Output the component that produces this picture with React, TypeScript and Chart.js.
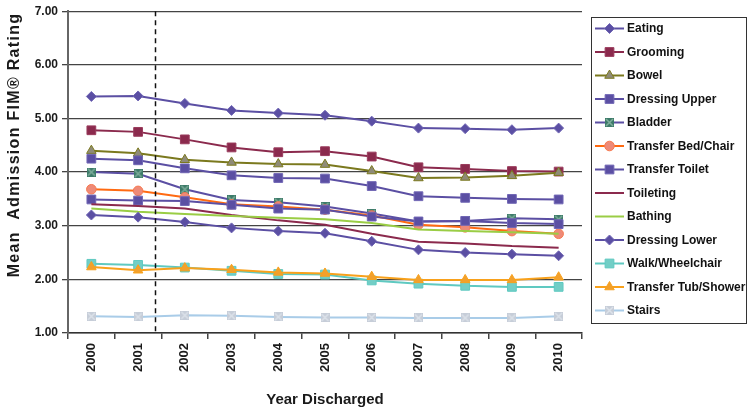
import React, { useEffect, useRef } from 'react';
import { Chart, registerables } from 'chart.js';

Chart.register(...registerables);

const years = ['2000', '2001', '2002', '2003', '2004', '2005', '2006', '2007', '2008', '2009', '2010'];

const eating = [5.41, 5.42, 5.28, 5.15, 5.10, 5.06, 4.95, 4.82, 4.81, 4.79, 4.82];
const grooming = [4.78, 4.75, 4.61, 4.46, 4.37, 4.39, 4.29, 4.09, 4.06, 4.02, 4.01];
const bowel = [4.40, 4.35, 4.23, 4.18, 4.15, 4.14, 4.02, 3.89, 3.90, 3.93, 3.99];
const dressingUpper = [4.25, 4.22, 4.07, 3.94, 3.89, 3.88, 3.74, 3.55, 3.52, 3.50, 3.49];
const bladder = [4.00, 3.97, 3.68, 3.48, 3.44, 3.36, 3.23, 3.08, 3.09, 3.14, 3.12];
const transferBedChair = [3.68, 3.65, 3.53, 3.40, 3.36, 3.30, 3.19, 3.02, 2.97, 2.90, 2.85];
const transferToilet = [3.49, 3.47, 3.46, 3.39, 3.32, 3.30, 3.17, 3.08, 3.09, 3.05, 3.03];
const toileting = [3.40, 3.37, 3.32, 3.20, 3.10, 3.02, 2.85, 2.70, 2.67, 2.62, 2.59];
const bathing = [3.32, 3.26, 3.22, 3.18, 3.15, 3.12, 3.05, 2.93, 2.90, 2.88, 2.85];
const dressingLower = [3.20, 3.16, 3.07, 2.96, 2.90, 2.86, 2.71, 2.55, 2.50, 2.47, 2.44];
const walkWheelchair = [2.29, 2.27, 2.22, 2.16, 2.10, 2.09, 1.98, 1.92, 1.88, 1.86, 1.86];
const transferTubShower = [2.23, 2.17, 2.21, 2.18, 2.13, 2.11, 2.05, 1.99, 1.99, 1.99, 2.04];
const stairs = [1.31, 1.30, 1.33, 1.32, 1.30, 1.29, 1.29, 1.28, 1.28, 1.28, 1.31];

const yMin = 1;
const yMax = 7;
const yStep = 1;
const dividerPosition = 1.37; // category index where the dashed divider sits

const yTitle = 'Mean  Admission FIM\u00AE Rating';
const xTitle = 'Year Discharged';

const FONT = '"Liberation Sans", Arial, Helvetica, sans-serif';
const PURPLE = '#5B4FA3';

function makeXSquare(fill: string, cross: string, side: number) {
  const c = document.createElement('canvas');
  c.width = side;
  c.height = side;
  const g = c.getContext('2d')!;
  g.fillStyle = fill;
  g.fillRect(0, 0, side, side);
  g.strokeStyle = cross;
  g.lineWidth = 1.5;
  g.beginPath();
  g.moveTo(1, 1);
  g.lineTo(side - 1, side - 1);
  g.moveTo(side - 1, 1);
  g.lineTo(1, side - 1);
  g.stroke();
  return c;
}

export default function App() {
  const ref = useRef<HTMLCanvasElement>(null);

  useEffect(() => {
    const canvas = ref.current!;
    const bladderMarker = makeXSquare('#3D7B69', '#7FAE9C', 9);
    const stairsMarker = makeXSquare('#C6CDD8', '#DCE2EA', 9);

    type S = { label: string; data: number[]; line: string; fill: string; border: string; style: any; radius: number };
    const series: S[] = [
      { label: 'Eating', data: eating, line: PURPLE, fill: PURPLE, border: '#7167B5', style: 'rectRot', radius: 5 },
      { label: 'Grooming', data: grooming, line: '#8B2A4D', fill: '#8B2A4D', border: '#9A3C5D', style: 'rect', radius: 6.2 },
      { label: 'Bowel', data: bowel, line: '#7B791E', fill: '#8F8B78', border: '#7B791E', style: 'triangle', radius: 5.5 },
      { label: 'Dressing Upper', data: dressingUpper, line: PURPLE, fill: PURPLE, border: '#7167B5', style: 'rect', radius: 6.2 },
      { label: 'Bladder', data: bladder, line: PURPLE, fill: '#3D7B69', border: '#3D7B69', style: bladderMarker, radius: 5 },
      { label: 'Transfer Bed/Chair', data: transferBedChair, line: '#FF6A12', fill: '#EE8A78', border: '#F77A50', style: 'circle', radius: 4.8 },
      { label: 'Transfer Toilet', data: transferToilet, line: PURPLE, fill: PURPLE, border: '#7167B5', style: 'rect', radius: 6.2 },
      { label: 'Toileting', data: toileting, line: '#8B2A4D', fill: '#8B2A4D', border: '#8B2A4D', style: false, radius: 0 },
      { label: 'Bathing', data: bathing, line: '#9ACD45', fill: '#9ACD45', border: '#9ACD45', style: false, radius: 0 },
      { label: 'Dressing Lower', data: dressingLower, line: PURPLE, fill: PURPLE, border: '#7167B5', style: 'rectRot', radius: 5 },
      { label: 'Walk/Wheelchair', data: walkWheelchair, line: '#5FC9C1', fill: '#72CEC6', border: '#5FC9C1', style: 'rect', radius: 6.2 },
      { label: 'Transfer Tub/Shower', data: transferTubShower, line: '#F8A11C', fill: '#F2A02C', border: '#F8A11C', style: 'triangle', radius: 5.5 },
      { label: 'Stairs', data: stairs, line: '#A9CCE8', fill: '#C6CDD8', border: '#C6CDD8', style: stairsMarker, radius: 5 },
    ];

    const drawMarker = (g: CanvasRenderingContext2D, s: S, x: number, y: number) => {
      if (!s.style) return;
      if (typeof s.style !== 'string') {
        g.drawImage(s.style, x - s.style.width / 2, y - s.style.height / 2);
        return;
      }
      g.save();
      g.fillStyle = s.fill;
      g.strokeStyle = s.border;
      g.lineWidth = 1;
      g.beginPath();
      const r = s.radius;
      if (s.style === 'rectRot') {
        g.moveTo(x, y - r); g.lineTo(x + r, y); g.lineTo(x, y + r); g.lineTo(x - r, y); g.closePath();
      } else if (s.style === 'rect') {
        const h = r * Math.SQRT1_2;
        g.rect(x - h, y - h, 2 * h, 2 * h);
      } else if (s.style === 'triangle') {
        g.moveTo(x, y - r);
        g.lineTo(x + r * 0.866, y + r * 0.5);
        g.lineTo(x - r * 0.866, y + r * 0.5);
        g.closePath();
      } else if (s.style === 'circle') {
        g.arc(x, y, r, 0, Math.PI * 2);
      }
      g.fill();
      g.stroke();
      g.restore();
    };

    const decorations = {
      id: 'decorations',
      afterDatasetsDraw(chart: any) {
        const g: CanvasRenderingContext2D = chart.ctx;
        const area = chart.chartArea;
        const xs = chart.scales.x;
        // dashed divider
        const dx = Math.round(xs.getPixelForValue(dividerPosition)) + 0.5;
        g.save();
        g.strokeStyle = '#111';
        g.lineWidth = 1.5;
        g.setLineDash([5, 4]);
        g.beginPath();
        g.moveTo(dx, area.top);
        g.lineTo(dx, area.bottom);
        g.stroke();
        g.restore();
      },
      afterDraw(chart: any) {
        const g: CanvasRenderingContext2D = chart.ctx;
        const area = chart.chartArea;
        g.save();
        // axis titles
        g.fillStyle = '#1a1a1a';
        g.font = `bold 15px ${FONT}`;
        g.textAlign = 'center';
        g.textBaseline = 'middle';
        g.fillText(xTitle, (area.left + area.right) / 2, 400);
        g.font = `bold 16px ${FONT}`;
        (g as any).letterSpacing = '1.3px';
        g.translate(15, 145);
        g.rotate(-Math.PI / 2);
        g.fillText(yTitle, 0, 0);
        g.restore();

        // legend
        g.save();
        (g as any).letterSpacing = '0px';
        g.strokeStyle = '#333';
        g.lineWidth = 1;
        g.strokeRect(591.5, 17.5, 155, 306);
        g.font = `bold 12px ${FONT}`;
        g.textAlign = 'left';
        g.textBaseline = 'middle';
        series.forEach((s, i) => {
          const y = 28.5 + i * 23.5;
          g.strokeStyle = s.line;
          g.lineWidth = 2;
          g.beginPath();
          g.moveTo(595, y);
          g.lineTo(624, y);
          g.stroke();
          drawMarker(g, s, 609.5, y);
          g.fillStyle = '#111';
          g.fillText(s.label, 627, y + 0.5);
        });
        g.restore();
      },
    };

    const chart = new Chart(canvas, {
      type: 'line',
      data: {
        labels: years,
        datasets: series.map((s, i) => ({
          label: s.label,
          data: s.data,
          borderColor: s.line,
          backgroundColor: s.fill,
          pointBackgroundColor: s.fill,
          pointBorderColor: s.border,
          pointBorderWidth: 1,
          pointStyle: s.style,
          pointRadius: s.radius,
          pointHoverRadius: s.radius,
          borderWidth: 2,
          tension: 0,
          fill: false,
          order: -i,
        })),
      },
      options: {
        animation: false,
        responsive: false,
        devicePixelRatio: 1,
        layout: { padding: { left: 0, right: 168, top: 7, bottom: 0 } },
        plugins: {
          legend: { display: false },
          tooltip: { enabled: false },
          title: { display: false },
        },
        scales: {
          x: {
            type: 'category',
            offset: true,
            grid: {
              drawOnChartArea: false,
              drawTicks: true,
              tickLength: 6,
              color: '#444',
              lineWidth: 1.5,
              offset: true,
            },
            border: { color: '#333', width: 1.5 },
            ticks: {
              maxRotation: 90,
              minRotation: 90,
              autoSkip: false,
              padding: 4,
              color: '#1a1a1a',
              font: { family: FONT, size: 13, weight: 'bold' },
            },
            afterFit: (scale: any) => {
              scale.height = 77;
            },
          },
          y: {
            min: yMin,
            max: yMax,
            grid: {
              color: '#444',
              lineWidth: 1.3,
              tickLength: 6,
            },
            border: { color: '#666', width: 2 },
            ticks: {
              stepSize: yStep,
              padding: 4,
              color: '#1a1a1a',
              font: { family: FONT, size: 12, weight: 'bold' },
              callback: (v: any) => Number(v).toFixed(2),
            },
            afterFit: (scale: any) => {
              scale.width = 68;
            },
          },
        },
      },
      plugins: [decorations],
    } as any);

    return () => chart.destroy();
  }, []);

  return (
    <div style={{ position: 'absolute', left: 0, top: 0, width: 750, height: 410, background: '#fff' }}>
      <canvas ref={ref} width={750} height={410} style={{ display: 'block', width: 750, height: 410 }} />
    </div>
  );
}
